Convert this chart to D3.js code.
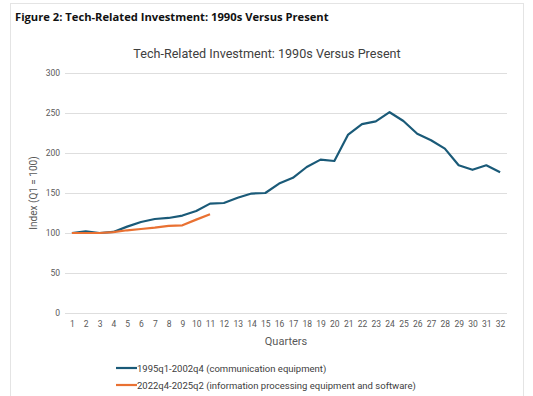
<!DOCTYPE html>
<html><head><meta charset="utf-8">
<script src="https://cdn.jsdelivr.net/npm/d3@7"></script>
<style>body{margin:0;background:#fff}svg{display:block}</style>
</head><body>
<svg id="c" width="533" height="396"></svg>
<script>
const quarters = d3.range(1, 33).map(String);
const comm = [100,102,100,101.3,108,113.8,117.5,118.8,121.8,127.5,136.7,137.5,144,149.3,150,161.8,169,182.5,191.7,190,223,236,239.5,251,240,224,216,205.5,184.6,179,184.6,176];
const info = [100,100,100,101,103.4,105,106.7,108.8,109.6,116.7,123.4];
const yTicks = [0,50,100,150,200,250,300];
const seriesNames = ["1995q1-2002q4 (communication equipment)","2022q4-2025q2 (information processing equipment and software)"];
const colors = ["#1a5a78","#e97132"];

const svg = d3.select("#c");
const font = "Roboto, 'Open Sans', sans-serif";

// frame
svg.append("rect").attr("x",10.5).attr("y",3.5).attr("width",513).attr("height",420)
  .attr("fill","none").attr("stroke","#e4e4e4").attr("stroke-width",1);

svg.append("text").attr("x",15).attr("y",21).text("Figure 2: Tech-Related Investment: 1990s Versus Present")
  .attr("font-family","'Open Sans', sans-serif").attr("font-weight","bold").attr("font-size",11.2).attr("fill","#111");

svg.append("text").attr("x",267).attr("y",58).attr("text-anchor","middle")
  .text("Tech-Related Investment: 1990s Versus Present")
  .attr("font-family",font).attr("font-size",12.6).attr("fill","#404040");

const x = d3.scalePoint().domain(quarters).range([65,507]).padding(0.5);
const y = d3.scaleLinear().domain([0,300]).range([313,73]);

// gridlines
svg.append("g").selectAll("line").data(yTicks).join("line")
  .attr("x1",65).attr("x2",507).attr("y1",d=>y(d)+0.5).attr("y2",d=>y(d)+0.5)
  .attr("stroke","#dedede").attr("stroke-width",1);

// y axis labels
const ya = svg.append("g").attr("transform","translate(62,0)")
  .call(d3.axisLeft(y).tickValues(yTicks).tickSize(0).tickPadding(2));
ya.select(".domain").remove();
ya.selectAll("text").attr("font-family",font).attr("font-size",8.5).attr("fill","#595959");

// x axis labels
const xa = svg.append("g").attr("transform","translate(0,318)")
  .call(d3.axisBottom(x).tickSize(0).tickPadding(3));
xa.select(".domain").remove();
xa.selectAll("text").attr("font-family",font).attr("font-size",8.5).attr("fill","#595959");

svg.append("text").attr("x",286).attr("y",345).attr("text-anchor","middle").text("Quarters")
  .attr("font-family",font).attr("font-size",11).attr("fill","#595959");
svg.append("text").attr("transform","translate(37,193) rotate(-90)").attr("text-anchor","middle")
  .text("Index (Q1 = 100)").attr("font-family",font).attr("font-size",10).attr("fill","#595959");

const line = d3.line().x((d,i)=>x(quarters[i])).y(d=>y(d));
[comm, info].forEach((s,k)=>{
  svg.append("path").datum(s).attr("d",line).attr("fill","none")
    .attr("stroke",colors[k]).attr("stroke-width",2.2).attr("stroke-linejoin","round");
});

// legend
const lg = svg.append("g");
seriesNames.forEach((n,k)=>{
  const yy = 368 + k*17;
  lg.append("line").attr("x1",116).attr("x2",137).attr("y1",yy).attr("y2",yy)
    .attr("stroke",colors[k]).attr("stroke-width",2.2);
  lg.append("text").attr("x",137).attr("y",yy+3.5).text(n)
    .attr("font-family",font).attr("font-size",9.5).attr("fill","#404040");
});
</script>
</body></html>
